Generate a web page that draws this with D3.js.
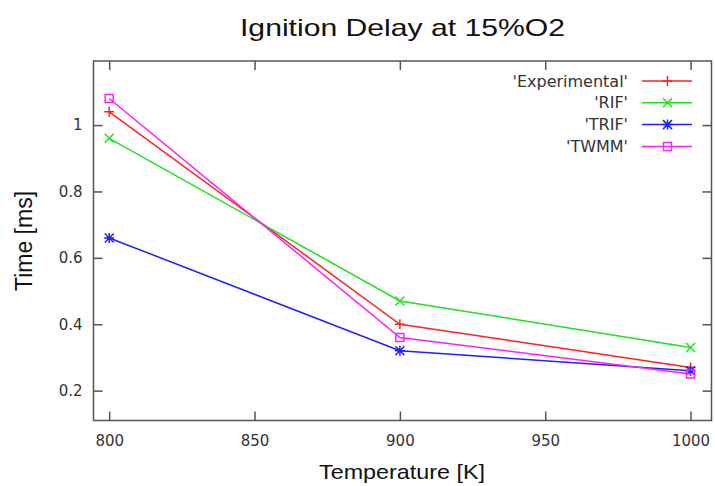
<!DOCTYPE html>
<html>
<head>
<meta charset="utf-8">
<script src="https://cdn.jsdelivr.net/npm/d3@7"></script>
<style>
  html, body { margin: 0; padding: 0; background: #fff; }
  svg { display: block; }
</style>
</head>
<body>
<svg id="chart" width="715" height="486"></svg>
<script>
// Temperatures (K) at which ignition delay was measured / simulated
const temperatures = [800, 900, 1000];

// Ignition delay in ms for each data set
const experimental = [1.04, 0.40, 0.27];
const rif = [0.96, 0.47, 0.33];
const trif = [0.66, 0.32, 0.26];
const twmm = [1.08, 0.36, 0.25];

const seriesNames = ["'Experimental'", "'RIF'", "'TRIF'", "'TWMM'"];
const seriesColors = ["#ff2020", "#20e020", "#2020ff", "#ff20ff"];
const seriesMarkers = ["plus", "cross", "star", "square"];

const xTicks = [800, 850, 900, 950, 1000];
const yTicks = [0.2, 0.4, 0.6, 0.8, 1.0];

const frame = { left: 93.5, right: 711.5, top: 61, bottom: 420.5 };

const svg = d3.select("#chart");

const x = d3.scaleLinear().domain([794.6, 1007.2]).range([frame.left, frame.right]);
const y = d3.scaleLinear().domain([0.110, 1.193]).range([frame.bottom, frame.top]);

const textColor = "#333";
const axisColor = "#555";
const tickFont = "'DejaVu Sans', sans-serif";
const labelFont = "'Liberation Sans', Arial, sans-serif";

// Title
svg.append("text")
  .attr("x", 402.5).attr("y", 36)
  .attr("text-anchor", "middle")
  .attr("font-family", labelFont)
  .attr("font-size", 24)
  .attr("textLength", 325)
  .attr("lengthAdjust", "spacingAndGlyphs")
  .attr("fill", "#111")
  .text("Ignition Delay at 15%O2");

// Axes with inward ticks, mirrored on the opposite edges
const tickLen = 9;
const axes = svg.append("g");

axes.append("g")
  .attr("transform", `translate(0,${frame.bottom})`)
  .call(d3.axisBottom(x).tickValues(xTicks).tickSize(-tickLen).tickPadding(15).tickFormat(d3.format("d")))
  .call(g => g.select(".domain").remove());
axes.append("g")
  .attr("transform", `translate(0,${frame.top})`)
  .call(d3.axisTop(x).tickValues(xTicks).tickSize(-tickLen).tickFormat(""))
  .call(g => g.select(".domain").remove());
axes.append("g")
  .attr("transform", `translate(${frame.left},0)`)
  .call(d3.axisLeft(y).tickValues(yTicks).tickSize(-tickLen).tickPadding(11).tickFormat(d3.format("~g")))
  .call(g => g.select(".domain").remove());
axes.append("g")
  .attr("transform", `translate(${frame.right},0)`)
  .call(d3.axisRight(y).tickValues(yTicks).tickSize(-tickLen).tickFormat(""))
  .call(g => g.select(".domain").remove());

axes.selectAll(".tick line").attr("stroke", axisColor).attr("stroke-width", 1.5);
axes.selectAll(".tick text")
  .attr("font-family", tickFont)
  .attr("font-size", 15)
  .attr("fill", textColor);

// Plot border
svg.append("rect")
  .attr("x", frame.left).attr("y", frame.top)
  .attr("width", frame.right - frame.left)
  .attr("height", frame.bottom - frame.top)
  .attr("fill", "none")
  .attr("stroke", axisColor)
  .attr("stroke-width", 1.5);

// Axis titles
svg.append("text")
  .attr("x", 402).attr("y", 479)
  .attr("text-anchor", "middle")
  .attr("font-family", labelFont)
  .attr("font-size", 21)
  .attr("textLength", 166)
  .attr("lengthAdjust", "spacingAndGlyphs")
  .attr("fill", "#111")
  .text("Temperature [K]");

svg.append("text")
  .attr("transform", `translate(32,241) rotate(-90)`)
  .attr("text-anchor", "middle")
  .attr("font-family", labelFont)
  .attr("font-size", 23)
  .attr("fill", "#111")
  .text("Time [ms]");

// Marker shapes
function drawMarker(g, type, cx, cy, color) {
  const s = 5;
  const p = d3.path();
  if (type === "plus" || type === "star") {
    p.moveTo(cx - s, cy); p.lineTo(cx + s, cy);
    p.moveTo(cx, cy - s); p.lineTo(cx, cy + s);
  }
  if (type === "cross" || type === "star") {
    const d = s * 0.9;
    p.moveTo(cx - d, cy - d); p.lineTo(cx + d, cy + d);
    p.moveTo(cx - d, cy + d); p.lineTo(cx + d, cy - d);
  }
  if (type === "square") {
    const d = 4;
    p.rect(cx - d, cy - d, 2 * d, 2 * d);
  }
  g.append("path")
    .attr("d", p.toString())
    .attr("fill", "none")
    .attr("stroke", color)
    .attr("stroke-width", 1.5);
}

const allSeries = [experimental, rif, trif, twmm];
const line = d3.line().x(d => x(d[0])).y(d => y(d[1]));
const plot = svg.append("g");

allSeries.forEach((vals, i) => {
  const pts = temperatures.map((t, j) => [t, vals[j]]);
  plot.append("path")
    .datum(pts)
    .attr("d", line)
    .attr("fill", "none")
    .attr("stroke", seriesColors[i])
    .attr("stroke-width", 1.5);
  pts.forEach(p => drawMarker(plot, seriesMarkers[i], x(p[0]), y(p[1]), seriesColors[i]));
});

// Legend
const legend = svg.append("g");
const legTop = 81, legStep = 21.8;
seriesNames.forEach((name, i) => {
  const ly = legTop + i * legStep;
  legend.append("text")
    .attr("x", 628).attr("y", ly)
    .attr("dy", "0.35em")
    .attr("text-anchor", "end")
    .attr("font-family", tickFont)
    .attr("font-size", 16)
    .attr("fill", textColor)
    .text(name);
  legend.append("line")
    .attr("x1", 642).attr("x2", 692)
    .attr("y1", ly).attr("y2", ly)
    .attr("stroke", seriesColors[i])
    .attr("stroke-width", 1.5);
  drawMarker(legend, seriesMarkers[i], 667.5, ly, seriesColors[i]);
});
</script>
</body>
</html>
